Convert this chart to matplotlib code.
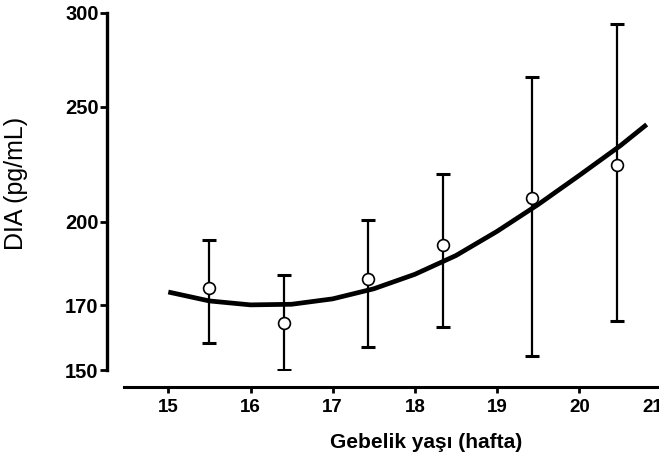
import matplotlib.pyplot as plt
import matplotlib.transforms as mtransforms
import numpy as np

# gestational week and mean DIA (pg/mL) with error-bar ends
hafta = [15.5, 16.41, 17.43, 18.34, 19.42, 20.46]
dia = [176.0, 164.2, 179.0, 191.2, 209.3, 223.3]
dia_alt = [158.2, 150.0, 156.8, 163.2, 154.0, 164.8]
dia_ust = [193.0, 180.4, 200.7, 219.3, 264.7, 293.3]

# fitted curve
egri_x = [15.0, 15.5, 16.0, 16.5, 17.0, 17.5, 18.0, 18.5, 19.0, 19.5, 20.0, 20.5, 20.82]
egri_y = [174.5, 171.5, 170.2, 170.4, 172.2, 175.6, 180.6, 187.3, 196.3, 206.8, 218.8, 231.8, 241.5]

x_ticks = [15, 16, 17, 18, 19, 20, 21]
y_ticks = [150, 170, 200, 250, 300]

plt.rcParams['font.family'] = ['Liberation Sans', 'DejaVu Sans']

fig = plt.figure(figsize=(6.59, 4.57), dpi=100)
# left spine at 107 px, 15 at 168 px, ~82 px per week
px = 82.2
x0 = 15 - (168.3 - 107) / px
x1 = 15 + (700 - 168.3) / px
ax = fig.add_axes([107 / 659, (457 - 370) / 457, (700 - 107) / 659, 357.3 / 457])

yerr = [np.array(dia) - np.array(dia_alt), np.array(dia_ust) - np.array(dia)]
ax.errorbar(hafta, dia, yerr=yerr, fmt='none', ecolor='black', elinewidth=1.6,
            capsize=5, capthick=2.2, zorder=2)
ax.plot(egri_x, egri_y, color='black', lw=3.4, solid_capstyle='butt', zorder=3)
ax.plot(hafta, dia, 'o', ms=8.5, mfc='white', mec='black', mew=1.2, zorder=4)

ax.set_yscale('log')
ax.set_ylim(150, 300)
ax.set_xlim(x0, x1)

ax.spines['top'].set_visible(False)
ax.spines['right'].set_visible(False)
ax.spines['left'].set_linewidth(2.4)
ax.spines['bottom'].set_linewidth(2.2)
ax.spines['bottom'].set_position(('outward', 12.5))
ax.spines['bottom'].set_bounds(15 - (168.3 - 124) / px, 21)
ax.tick_params(axis='y', length=5, width=2, pad=1)
ax.tick_params(axis='x', length=4.5, width=2, pad=4)

ax.set_yticks(y_ticks)
ax.yaxis.set_minor_locator(plt.NullLocator())
ax.set_yticklabels([str(v) for v in y_ticks], fontweight='bold', fontsize=14.5)
ax.set_xticks(x_ticks)
ax.set_xticklabels([str(v) for v in x_ticks], fontweight='bold', fontsize=13.5)

# last label sits at the right edge, nudge it in a little as in the original
son = ax.get_xticklabels()[-1]
son.set_transform(son.get_transform() +
                  mtransforms.ScaledTranslation(-9 / 100, 0, fig.dpi_scale_trans))

fig.text(16 / 659, 1 - 183 / 457, 'DIA (pg/mL)', rotation=90, fontsize=18,
         ha='center', va='center')
fig.text(426.5 / 659, 1 - 442 / 457, 'Gebelik yaşı (hafta)', fontweight='bold',
         fontsize=15, ha='center', va='center')

plt.savefig('out.png', dpi=100)
